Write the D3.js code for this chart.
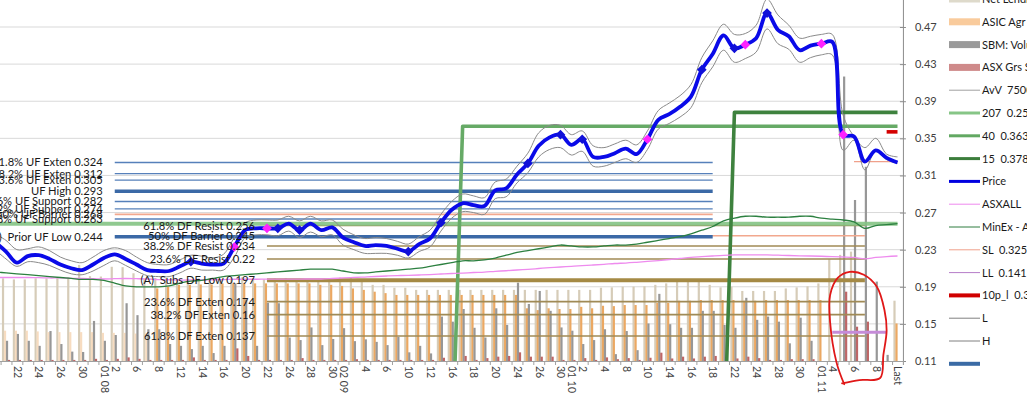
<!DOCTYPE html>
<html><head><meta charset="utf-8">
<script src="https://cdn.jsdelivr.net/npm/d3@7/dist/d3.min.js"></script>
<style>html,body{margin:0;padding:0;background:#fff;overflow:hidden}svg{display:block}</style>
</head><body>
<svg id="chart" width="1027" height="397"></svg>
<script>
// ---------- DATA (category index -2 .. 81) ----------
const firstIndex = -2;
const price = [
 .238,.228,.216,.223,.224,.220,.214,.210,.208,.214,
 .221,.225,.220,.214,.208,.207,.207,.212,.217,.215,
 .214,.215,.233,.251,.253,.253,.253,.258,.251,.258,
 .251,.254,.243,.238,.234,.235,.234,.231,.228,.236,
 .242,.259,.273,.280,.278,.277,.294,.296,.311,.323,
 .342,.351,.354,.343,.349,.330,.330,.334,.339,.333,
 .349,.370,.376,.384,.395,.424,.441,.461,.447,.451,
 .458,.485,.467,.460,.445,.450,.452,.454,.354,.352,
 .325,.337,.329,.324];
const highEnv = [
 .247,.240,.230,.231,.233,.229,.222,.218,.216,.222,
 .229,.232,.229,.222,.216,.214,.214,.219,.224,.223,
 .221,.225,.243,.259,.262,.262,.262,.266,.261,.266,
 .261,.262,.252,.246,.242,.243,.242,.239,.236,.244,
 .251,.268,.282,.290,.288,.286,.303,.306,.320,.334,
 .356,.364,.364,.354,.358,.342,.340,.344,.348,.343,
 .358,.380,.388,.396,.408,.437,.455,.473,.462,.463,
 .472,.500,.483,.472,.458,.460,.462,.462,.375,.352,
 .340,.350,.333,.330];
const lowEnv = [
 .230,.220,.212,.217,.216,.213,.208,.204,.203,.207,
 .213,.218,.213,.207,.202,.201,.201,.205,.210,.208,
 .208,.208,.222,.243,.246,.246,.245,.250,.243,.249,
 .244,.246,.235,.230,.226,.226,.226,.224,.221,.228,
 .233,.250,.264,.271,.270,.268,.285,.287,.302,.313,
 .330,.338,.340,.332,.336,.320,.320,.324,.328,.324,
 .338,.360,.366,.373,.383,.410,.427,.445,.432,.436,
 .443,.468,.452,.446,.432,.437,.440,.440,.337,.348,
 .316,.337,.327,.323];
const minEx = [
 .206,.205,.204,.203,.202,.201,.200,.199,.198,.198,
 .197,.194,.191,.190,.190,.190,.191,.194,.196,.197,
 .199,.201,.202,.203,.204,.205,.206,.207,.208,.209,
 .209,.209,.207,.205,.205,.206,.207,.208,.209,.210,
 .212,.214,.216,.218,.218,.219,.221,.224,.227,.229,
 .231,.233,.235,.234,.233,.233,.234,.235,.235,.236,
 .238,.240,.242,.244,.247,.251,.255,.261,.264,.266,
 .266,.265,.265,.265,.266,.266,.264,.263,.262,.260,
 .253,.256,.257,.258];
const asxAll = [
 .2000,.2000,.2000,.2000,.1998,.1995,.1995,.1991,.1989,.1987,
 .1984,.1987,.1989,.1987,.1984,.1978,.1976,.1973,.1973,.1973,
 .1976,.1978,.1981,.1981,.1981,.1982,.1982,.1982,.1983,.1984,
 .1984,.1989,.1995,.2000,.2005,.2011,.2016,.2020,.2024,.2027,
 .2032,.2038,.2043,.2048,.2054,.2059,.2067,.2073,.2081,.2088,
 .2097,.2106,.2113,.2121,.2129,.2135,.2142,.2151,.2156,.2164,
 .2173,.2183,.2194,.2205,.2216,.2224,.2232,.2239,.2243,.2243,
 .2243,.2243,.2241,.2237,.2234,.2232,.2229,.2224,.2221,.2216,
 .2200,.2216,.2226,.2232];
// bar series (hidden secondary volume axis, 0..100)
const netLend = [
 22.8,22.9,22.6,22.6,22.9,22.9,23.2,23.2,26.6,23.5,
 23.4,26.1,26.0,24.3,22.7,23.0,22.9,22.7,22.6,22.9,
 23.0,22.6,22.9,23.2,22.9,22.6,22.9,23.0,22.6,22.6,
 22.8,22.9,23.1,23.1,22.0,21.1,21.1,20.3,20.3,19.7,
 19.7,19.7,19.7,19.7,19.7,19.7,19.7,19.7,19.7,19.7,
 19.7,19.7,19.7,19.7,19.7,19.7,20.3,20.4,20.6,20.6,
 20.7,21.1,21.5,22.0,22.0,22.6,21.1,20.4,20.6,19.4,
 19.4,19.4,19.4,20.1,20.4,20.7,21.5,28.2,29.4,30.3,
 0,0,0,16.7];
const asicAgr = [
 8.2,8.4,8.4,8.4,8.2,8.0,8.0,8.0,8.0,8.0,
 7.8,7.8,7.8,7.6,7.6,20.1,20.6,21.1,21.1,21.2,
 21.2,21.5,21.5,21.5,21.5,21.5,21.5,21.5,21.5,21.5,
 21.1,21.1,20.8,20.1,19.7,19.2,18.8,18.3,18.3,18.3,
 18.3,18.3,18.3,18.3,18.3,18.3,18.3,18.3,18.3,14.6,
 14.1,14.6,14.4,14.4,15.0,14.6,15.3,15.2,15.5,15.5,
 15.5,16.1,16.1,16.7,16.7,16.9,16.9,16.9,16.9,16.7,
 16.7,16.9,16.9,16.9,16.9,16.9,16.9,0,0,0,
 0,0,0,10.4];
const sbmVol = [
 8.6,5.6,7.5,5.6,4.2,8.3,4.7,2.6,2.5,11.1,
 5.6,7.2,16.0,12.7,8.8,8.8,4.7,4.2,3.3,4.2,
 2.2,4.2,21.5,17.1,4.2,16.1,16.0,6.5,5.8,9.3,
 4.4,6.1,9.1,5.5,6.0,5.3,4.4,6.7,2.4,4.2,
 2.1,12.3,10.9,14.4,9.2,6.5,14.6,10.0,21.7,15.8,
 19.4,13.9,9.3,8.4,4.7,5.8,8.8,1.9,8.3,3.0,
 10.4,18.6,10.2,9.2,9.2,13.9,13.9,10.0,9.2,17.5,
 11.4,12.3,10.9,4.9,12.0,5.6,0,0,78.8,44.6,
 53.8,22.0,1.7,0];
const asxGrs = [
 0.3,0.3,0.3,0.3,0.3,0.3,0.3,0.3,0.3,0.6,
 0.3,0.6,1.0,0.6,0.3,0.3,0.3,0.3,1.0,0.3,
 0.3,0.3,3.5,1.4,0.3,0.3,0.3,0.3,0.8,0.3,
 0.3,0.3,0.3,0.5,0.3,0.3,0.3,0.3,0.3,0.3,
 0.3,0.9,0.3,1.4,0.3,0.8,1.2,1.4,2.4,1.2,
 1.2,1.2,0.3,0.3,0.8,0.3,1.0,0.5,0.8,0.3,
 0.9,2.3,0.7,1.2,0.7,1.2,1.4,0.3,0.7,1.2,
 0.8,0.3,0.3,0.5,0.5,0.5,0,0,19.2,9.5,
 10.9,0,0,0];
const blueMarkerIdx = [16,24,26,36,39,47,50,52,63,66,69];
const magentaMarkerIdx = [20,23,58,67,74,76];
// step / level series as [category, value]
const line207 = [[-2,0.258],[81,0.258]];
const line40 = [[-2,0],[40,0],[41,0.363],[81,0.363]];
const line15 = [[-2,0],[65,0],[66,0.378],[81,0.378]];
const lineSL = [[77,0.325],[81,0.325]];
const lineLL = [[75,0.141],[80,0.141]];
const line10p = [[80,0.357],[81,0.357]];
// Fibonacci levels
const ufNames = ["61.8% UF Exten 0.324","38.2% UF Exten 0.312","23.6% UF Exten 0.305","UF High 0.293",
 "23.6% UF Support 0.282","38.2% UF Support 0.274","50% UF Barrier 0.268","61.8% UF Support 0.263","(B)  Prior UF Low 0.244"];
const ufValues = [0.324,0.312,0.305,0.293,0.282,0.274,0.268,0.263,0.244];
const ufRange = [9,64];
const dfNames = ["61.8% DF Resist 0.256","50% DF Barrier 0.245","38.2% DF Resist 0.234","23.6% DF Resist 0.22",
 "(A)  Subs DF Low 0.197","23.6% DF Exten 0.174","38.2% DF Exten 0.16","61.8% DF Exten 0.137"];
const dfValues = [0.256,0.245,0.234,0.22,0.197,0.174,0.16,0.137];
const dfRange = [23,78];
// axis labels
const yTickValues = [0.11,0.15,0.19,0.23,0.27,0.31,0.35,0.39,0.43,0.47,0.51];
const xLabels = ["22","24","26","30","01 08","2","6","8","12","14","16","20","22","26","28","30","02 09","4","6","10","12","16","18","20","24","26","30","01 10","2","4","8","10","14","16","18","22","24","28","30","01 11","4","6","8","Last"];
const xLabelIdx = [0,2,4,6,8,9,11,13,15,17,19,21,23,25,27,29,30,32,34,36,38,40,42,44,46,48,50,51,52,54,56,58,60,62,64,66,68,70,72,74,75,77,79,81];
const legendNames = ["Net Lending","ASIC Agr Short","SBM: Volume","ASX Grs Short","AvV  7500","207  0.258","40  0.363","15  0.378","Price","ASXALL","MinEx - ASX","SL  0.325","LL  0.141","10p_l  0.357","L","H",""];
// hand-drawn annotation loop, [category, value]
const annotationLoop = [[76.1,0.085],[75.4,0.108],[74.8,0.152],[74.8,0.181],[75.5,0.1995],[76.6,0.206],[77.9,0.203],[79.1,0.190],[79.8,0.165],[80.0,0.143],[79.7,0.1165],[79.4,0.0917],[77.5,0.0895],[75.9,0.086]];

// ---------- CHART ----------
const FONT = "Lato, 'Liberation Sans', sans-serif";
const svg = d3.select("#chart");
const idx = d3.range(firstIndex, 82);
const x = d3.scaleLinear().domain([0,81]).range([16.9,897.5]);
const y = d3.scaleLinear().domain([0.11,0.51]).range([361,-10.1]);
const yVol = d3.scaleLinear().domain([0,100]).range([361,0]);
const plotRight = x(81.5), plotBottom = y(0.11);

svg.append("defs").append("clipPath").attr("id","plot")
  .append("rect").attr("x",-80).attr("y",-80).attr("width",plotRight+80).attr("height",plotBottom+80);

// gridlines
svg.append("g").selectAll("line").data(yTickValues.filter(v=>v>0.111)).join("line")
  .attr("x1",0).attr("x2",plotRight).attr("y1",d=>y(d)).attr("y2",d=>y(d))
  .attr("stroke","#D9D9D9").attr("stroke-width",1);

const plot = svg.append("g").attr("clip-path","url(#plot)");

// bars
const barSeries = [
  {values:netLend, off:-3, color:()=>"#D6CCB8"},
  {values:asicAgr, off:-1, color:i=> i<13 ? "#F7DCC0" : "#EBA862"},
  {values:sbmVol, off:1, color:()=>"#979797"},
  {values:asxGrs, off:3, color:()=>"#BE6666"}
];
barSeries.forEach(s=>{
  plot.append("g").selectAll("rect").data(idx.map((c,k)=>({c, v:s.values[k]})).filter(d=>d.v>0)).join("rect")
    .attr("x",d=>x(d.c)+s.off-1.1).attr("width",2.2)
    .attr("y",d=>yVol(d.v)).attr("height",d=>yVol(0)-yVol(d.v))
    .attr("fill",d=>s.color(d.c));
});

// level lines
function levelStyle(name, group){
  if(/Barrier/.test(name)) return {c:"#F2A88E", w:1.6};
  if(group==="uf") return /High|Prior/.test(name) ? {c:"#3B69A6", w:3.6} : {c:"#5680BA", w:1.4};
  return /Low/.test(name) ? {c:"#A58A45", w:4} : {c:"#A08A55", w:1.6};
}
function drawLevels(names, values, range, group){
  const g = plot.append("g");
  names.forEach((n,k)=>{
    const st = levelStyle(n, group);
    g.append("line").attr("x1",x(range[0])).attr("x2",x(range[1]))
      .attr("y1",y(values[k])).attr("y2",y(values[k]))
      .attr("stroke",st.c).attr("stroke-width",st.w);
  });
}
drawLevels(dfNames, dfValues, dfRange, "df");
drawLevels(ufNames, ufValues, ufRange, "uf");

const lineP = d3.line().x(d=>x(d[0])).y(d=>y(d[1]));
function poly(pts, color, w, op){
  plot.append("path").attr("d",lineP(pts)).attr("fill","none").attr("stroke",color)
    .attr("stroke-width",w).attr("opacity",op||1).attr("stroke-linejoin","round");
}
poly(line207, "#84C384", 4, 0.9);
poly(line40, "#66AA66", 3.6);
poly(line15, "#3E823E", 3.6);

const smooth = d3.line().x(d=>x(d[0])).y(d=>y(d[1])).curve(d3.curveCatmullRom.alpha(0.5));
const series = arr => idx.map((c,k)=>[c, arr[k]]);
plot.append("path").attr("d",smooth(series(asxAll))).attr("fill","none").attr("stroke","#EE8BEE").attr("stroke-width",1.3);
plot.append("path").attr("d",smooth(series(minEx))).attr("fill","none").attr("stroke","#2C8040").attr("stroke-width",1.3);
poly(lineSL, "#F0A08A", 1.3);
poly(lineLL, "#C58BD8", 3);
poly(line10p, "#D40000", 3.6);

// level labels (under price)
function drawLabels(names, values, range){
  svg.append("g").selectAll("text").data(names).join("text")
    .attr("x", x(range[0]) - 12).attr("y",(d,k)=>y(values[k]))
    .attr("dy","0.36em").attr("text-anchor","end").attr("xml:space","preserve")
    .style("font-family",FONT).style("font-size","11.2px").style("white-space","pre").attr("fill","#1a1a1a")
    .text(d=>d);
}
drawLabels(ufNames, ufValues, ufRange);
drawLabels(dfNames, dfValues, dfRange);

// envelopes and price
plot.append("path").attr("d",smooth(series(highEnv))).attr("fill","none").attr("stroke","#8A8A8A").attr("stroke-width",1);
plot.append("path").attr("d",smooth(series(lowEnv))).attr("fill","none").attr("stroke","#8A8A8A").attr("stroke-width",1);
plot.append("path").attr("d",smooth(series(price))).attr("fill","none").attr("stroke","#0A0AE8").attr("stroke-width",3.8).attr("stroke-linejoin","round");

const diamond = d3.symbol().type(d3.symbolDiamond2 || d3.symbolDiamond).size(60);
function markers(list, color){
  plot.append("g").selectAll("path").data(list).join("path")
    .attr("d",diamond).attr("transform",d=>`translate(${x(d)},${y(price[d-firstIndex])})`)
    .attr("fill",color);
}
markers(blueMarkerIdx, "#1010D8");
markers(magentaMarkerIdx, "#FF22FF");

// axes
const yAxis = svg.append("g").attr("transform",`translate(${plotRight},0)`)
  .call(d3.axisRight(y).tickValues(yTickValues).tickFormat(d3.format(".2f")).tickSizeOuter(0).tickSize(3).tickPadding(9));
yAxis.select(".domain").attr("stroke","#8C8C8C");
yAxis.selectAll(".tick line").attr("x1",-3).attr("x2",3).attr("stroke","#8C8C8C");
yAxis.selectAll(".tick text").style("font-family",FONT).style("font-size","11px").attr("fill","#404040");

const xAxisScale = d3.scaleLinear().domain([-3.6,81.5]).range([x(-3.6),x(81.5)]);
const xTicks = svg.append("g").attr("transform",`translate(0,${plotBottom})`)
  .call(d3.axisBottom(xAxisScale).tickValues(d3.range(-2.5,81.6,1)).tickFormat("").tickSizeOuter(0).tickSize(4));
xTicks.select(".domain").attr("stroke","#A0A0A0");
xTicks.selectAll(".tick line").attr("stroke","#A0A0A0");

const xLab = svg.append("g").attr("transform",`translate(0,${plotBottom})`)
  .call(d3.axisBottom(x).tickValues(xLabelIdx).tickFormat((d,i)=>xLabels[i]).tickSize(0));
xLab.select(".domain").remove();
xLab.selectAll(".tick text").attr("transform","rotate(90)").attr("x",5).attr("y",0).attr("dy","0.35em")
  .attr("text-anchor","start").style("font-family",FONT).style("font-size","10.5px").attr("fill","#404040");

// annotation loop
svg.append("path").attr("d", d3.line().x(d=>x(d[0])).y(d=>y(d[1])).curve(d3.curveCatmullRom.alpha(0.5))(annotationLoop))
  .attr("fill","none").attr("stroke","#E01818").attr("stroke-width",1.8).attr("stroke-linecap","round");

// legend
const legRow = d3.scaleLinear().domain([0,1]).range([-1,21.8]);
const legendSw = [
  {t:"rect",c:"#DEDACB"},{t:"rect",c:"#F9CB9C"},{t:"rect",c:"#9A9A9A"},{t:"rect",c:"#CF8A8A"},
  {t:"line",c:"#A0A0A0",w:1},{t:"line",c:"#86C586",w:3},{t:"line",c:"#62A862",w:3},{t:"line",c:"#3C7D3C",w:3},
  {t:"line",c:"#0000E0",w:3},{t:"line",c:"#EE88EE",w:1},{t:"line",c:"#2E7D3E",w:1},{t:"line",c:"#F0A08A",w:1},
  {t:"line",c:"#B57CC8",w:1},{t:"line",c:"#D00000",w:4},{t:"line",c:"#808080",w:1},{t:"line",c:"#808080",w:1},
  {t:"line",c:"#3A6BA5",w:4}
];
const leg = svg.append("g");
legendNames.forEach((n,k)=>{
  const cy = legRow(k), s = legendSw[k];
  if(s.t==="rect") leg.append("rect").attr("x",949).attr("y",cy-3.5).attr("width",31).attr("height",7).attr("fill",s.c);
  else leg.append("line").attr("x1",949).attr("x2",980).attr("y1",cy).attr("y2",cy).attr("stroke",s.c).attr("stroke-width",s.w);
  leg.append("text").attr("x",982).attr("y",cy).attr("dy","0.36em").style("font-family",FONT).style("font-size","11px")
    .attr("fill","#1a1a1a").attr("xml:space","preserve").style("white-space","pre").text(n);
});
</script>
</body></html>
